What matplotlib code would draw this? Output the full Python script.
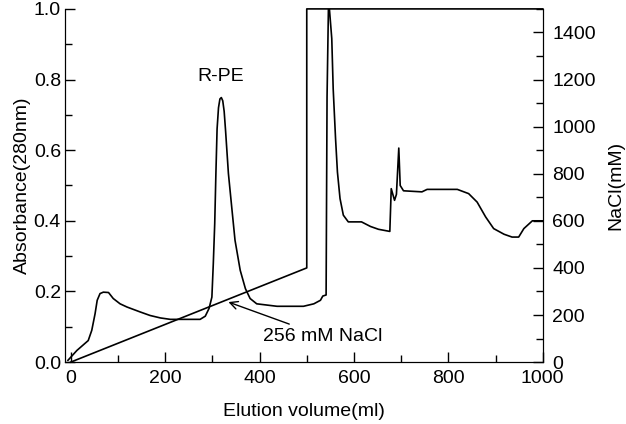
import matplotlib
matplotlib.use("Agg")
import matplotlib.pyplot as plt
from matplotlib.ticker import MultipleLocator

plt.rcParams['font.family'] = ['Liberation Sans', 'DejaVu Sans']
plt.rcParams['font.size'] = 14

# absorbance at 280 nm
volume = [-6, 13, 37, 44.5, 51.5, 56, 62, 69, 80, 90, 104.5, 119, 147, 168, 190,
          211, 274, 285, 293, 299, 302, 305, 307.5, 310, 313, 316, 319, 322,
          325, 328, 334, 341, 348, 359, 370, 380, 394, 437, 493, 515, 529, 534,
          541, 543, 546, 548, 553, 556, 561, 565, 570.5, 577.5, 588, 616, 635,
          652, 676, 679, 686, 690, 695, 698, 705, 744, 755, 819, 843, 861, 879,
          896, 918, 935, 949, 960, 978, 1000]
absorb = [0.005, 0.033, 0.061, 0.09, 0.137, 0.175, 0.194, 0.198, 0.197, 0.18,
          0.165, 0.156, 0.142, 0.132, 0.125, 0.121, 0.121, 0.13, 0.152, 0.184,
          0.279, 0.392, 0.534, 0.66, 0.72, 0.745, 0.749, 0.74, 0.71, 0.655,
          0.534, 0.439, 0.345, 0.26, 0.208, 0.18, 0.165, 0.158, 0.158, 0.165,
          0.175, 0.187, 0.19, 0.75, 1.01, 1.0, 0.916, 0.774, 0.633, 0.538,
          0.463, 0.416, 0.397, 0.397, 0.384, 0.376, 0.37, 0.491, 0.458, 0.475,
          0.606, 0.50, 0.485, 0.482, 0.489, 0.489, 0.477, 0.453, 0.411, 0.378,
          0.362, 0.354, 0.354, 0.378, 0.40, 0.40]

# NaCl gradient
nacl_vol = [0, 500, 500, 1000]
nacl_mm = [0, 400, 1500, 1500]


def style_ticks(axis):
    axis.tick_params(which='both', direction='in', width=1)
    axis.tick_params(which='major', length=7)
    axis.tick_params(which='minor', length=5)


def main():
    fig = plt.figure(figsize=(6.26, 4.24), dpi=100)
    ax = fig.add_axes([0.104, 0.146, 0.763, 0.833])
    ax.plot(volume, absorb, color='black', lw=1.2)
    ax.set_xlim(-12, 1000)
    ax.set_ylim(0, 1.0)
    ax.xaxis.set_major_locator(MultipleLocator(200))
    ax.xaxis.set_minor_locator(MultipleLocator(100))
    ax.yaxis.set_major_locator(MultipleLocator(0.2))
    ax.yaxis.set_minor_locator(MultipleLocator(0.1))
    ax.yaxis.set_major_formatter(plt.FormatStrFormatter('%.1f'))
    style_ticks(ax)
    ax.tick_params(top=False, right=False)
    ax.tick_params(axis='x', pad=6)
    ax.tick_params(axis='y', pad=3)
    ax.spines['top'].set_visible(False)
    ax.set_xlabel('Elution volume(ml)', labelpad=11)
    ax.set_ylabel('Absorbance(280nm)', labelpad=2)

    ax2 = ax.twinx()
    ax2.plot(nacl_vol, nacl_mm, color='black', lw=1.2, clip_on=False)
    ax2.set_ylim(0, 1500)
    ax2.yaxis.set_major_locator(MultipleLocator(200))
    ax2.yaxis.set_minor_locator(MultipleLocator(100))
    style_ticks(ax2)
    ax2.tick_params(axis='y', pad=7)
    ax2.spines['top'].set_visible(False)
    ax2.set_ylabel('NaCl(mM)', labelpad=8)

    ax.text(317, 0.81, 'R-PE', ha='center', va='center')
    ax.annotate('256 mM NaCl', xy=(334, 0.17), xytext=(408, 0.073),
                ha='left', va='center',
                arrowprops=dict(arrowstyle='->', color='black', lw=1,
                                shrinkA=2, shrinkB=0))

    fig.savefig('out.png', dpi=100)


if __name__ == '__main__':
    main()
